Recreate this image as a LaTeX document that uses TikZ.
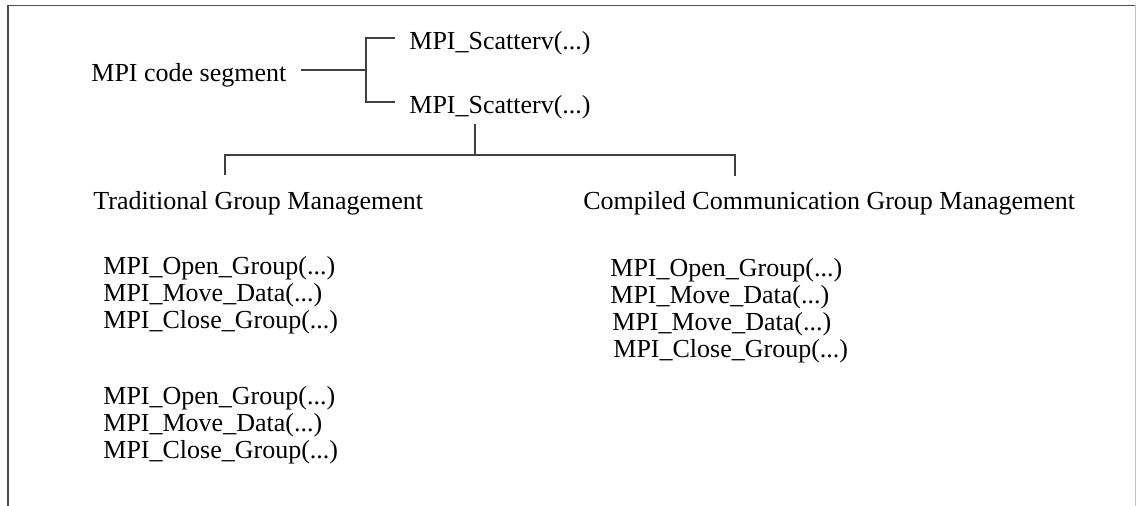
\documentclass[tikz,border=0pt]{standalone}
\usepackage{fontspec}
\setmainfont{Liberation Serif}
\begin{document}
\begin{tikzpicture}[x=0.5pt,y=-0.5pt,
  txt/.style={anchor=base west,inner sep=0pt,font=\fontsize{13pt}{15.5pt}\selectfont},
  link/.style={draw=black!75,line width=0.6pt},
  frame/.style={draw=black!70,line width=0.8pt}]
\useasboundingbox (0,0) rectangle (1136,506);
% open frame: top and sides
\draw[frame] (8,506) -- (8,5.5) -- (1136,5.5);
\draw[draw=black!25,line width=0.5pt] (1135.5,5.5) -- (1135.5,506);

% source segment and its two calls
\node[txt] (code) at (91,82) {MPI code segment};
\node[txt] (s1) at (409,50) {MPI\_Scatterv(...)};
\node[txt] (s2) at (409,114) {MPI\_Scatterv(...)};

% two group management schemes
\node[txt] (trad) at (93,210) {Traditional Group Management};
\node[txt] (comp) at (583,210) {Compiled Communication Group Management};

% traditional: one group per call
\node[txt] (t1) at (103,275) {MPI\_Open\_Group(...)};
\node[txt] (t2) at (103,302) {MPI\_Move\_Data(...)};
\node[txt] (t3) at (103,329) {MPI\_Close\_Group(...)};
\node[txt] (t4) at (103,405) {MPI\_Open\_Group(...)};
\node[txt] (t5) at (103,432) {MPI\_Move\_Data(...)};
\node[txt] (t6) at (103,459) {MPI\_Close\_Group(...)};

% compiled communication: one shared group
\node[txt] (c1) at (610,277) {MPI\_Open\_Group(...)};
\node[txt] (c2) at (610,304) {MPI\_Move\_Data(...)};
\node[txt] (c3) at (612,331) {MPI\_Move\_Data(...)};
\node[txt] (c4) at (613,358) {MPI\_Close\_Group(...)};

% junction points of the tree
\coordinate (fork) at (366,70);
\coordinate (stem) at (475,124);
\coordinate (bus) at (475,155);
\coordinate (lefttip) at (225,175);
\coordinate (righttip) at (735,176);

% bracket from the segment to the calls
\draw[link] ([xshift=7pt,yshift=6pt]code.base east) -- (fork);
\draw[link] ([xshift=-7pt,yshift=6pt]s1.base west) -| (fork)
  |- ([xshift=-7pt,yshift=6pt]s2.base west);

% split into the two schemes
\draw[link] (stem) -- (bus);
\draw[link] (lefttip) |- (bus) -| (righttip);
\end{tikzpicture}
\end{document}
